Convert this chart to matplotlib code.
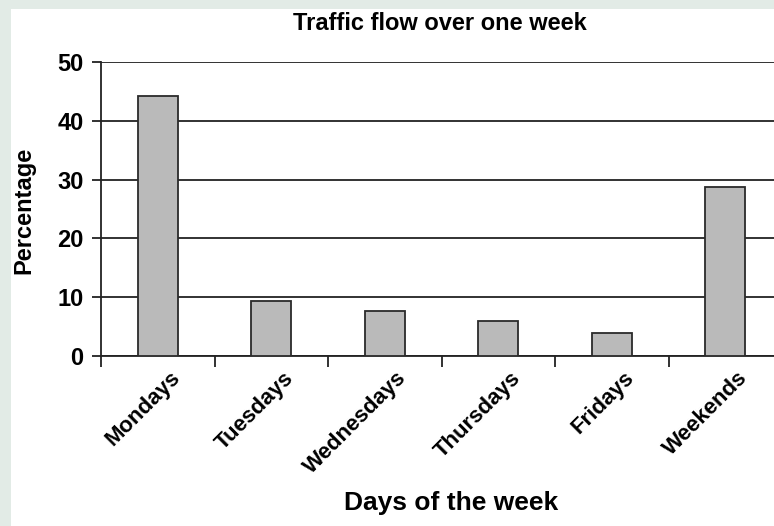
import matplotlib.pyplot as plt
import matplotlib.transforms as mtransforms
from matplotlib.patches import Rectangle
import numpy as np

# Data
days = ['Mondays', 'Tuesdays', 'Wednesdays', 'Thursdays', 'Fridays', 'Weekends']
percentages = [44.2, 9.4, 7.7, 5.9, 3.9, 28.7]
y_ticks = [0, 10, 20, 30, 40, 50]

plt.rcParams['font.family'] = ['Liberation Sans', 'DejaVu Sans']
plt.rcParams['font.weight'] = 'bold'

W, H = 774, 526
fig = plt.figure(figsize=(W / 100, H / 100), dpi=100)
fig.patch.set_facecolor('#e2ebe6')

# white panel inside the light frame
fig.patches.append(Rectangle((11 / W, 0), 1 - 11 / W, 1 - 9 / H,
                             transform=fig.transFigure, facecolor='white',
                             edgecolor='none', zorder=-5))

# axes right edge runs past the image edge, as in the reference
ax = fig.add_axes([101 / W, 1 - 356 / H, 681 / W, 294 / H])
ax.set_zorder(2)
ax.set_facecolor('white')

x = np.arange(len(days))
ax.bar(x, percentages, width=0.35, color='#bababa', edgecolor='#2a2a2a',
       linewidth=1.3, zorder=3)

ax.set_xlim(-0.5, len(days) - 0.5)
ax.set_ylim(0, 50)
ax.set_yticks(y_ticks)
ax.set_yticklabels([str(v) for v in y_ticks], fontsize=17)
ax.yaxis.grid(True, color='#222222', linewidth=1.3, zorder=1)
ax.set_axisbelow(True)

for side in ['top', 'right']:
    ax.spines[side].set_visible(False)
for side in ['left', 'bottom']:
    ax.spines[side].set_linewidth(1.3)
    ax.spines[side].set_color('#222222')

ax.tick_params(axis='y', direction='out', length=6.5, width=1.3, pad=6,
               color='#222222')

# category boundaries get the tick marks, labels sit at the bar centres
ax.set_xticks(x)
ax.set_xticks(np.arange(len(days)) - 0.5, minor=True)
ax.tick_params(axis='x', which='major', length=0, pad=0)
ax.tick_params(axis='x', which='minor', direction='out', length=8, width=1.3,
               color='#222222')
ax.set_xticklabels(days, fontsize=16, rotation=45, ha='right', va='center',
                   rotation_mode='anchor')
offset = mtransforms.ScaledTranslation(0.19, -0.19, fig.dpi_scale_trans)
for lbl in ax.get_xticklabels():
    lbl.set_transform(lbl.get_transform() + offset)

fig.text(440 / W, 1 - 24 / H, 'Traffic flow over one week', fontsize=17,
         fontweight='bold', ha='center', va='center')
fig.text(451 / W, 1 - 503 / H, 'Days of the week', fontsize=19,
         fontweight='bold', ha='center', va='center')
fig.text(24 / W, 1 - 210 / H, 'Percentage', fontsize=17, fontweight='bold',
         ha='center', va='center', rotation=90)

fig.savefig('out.png', dpi=100, facecolor=fig.get_facecolor())
